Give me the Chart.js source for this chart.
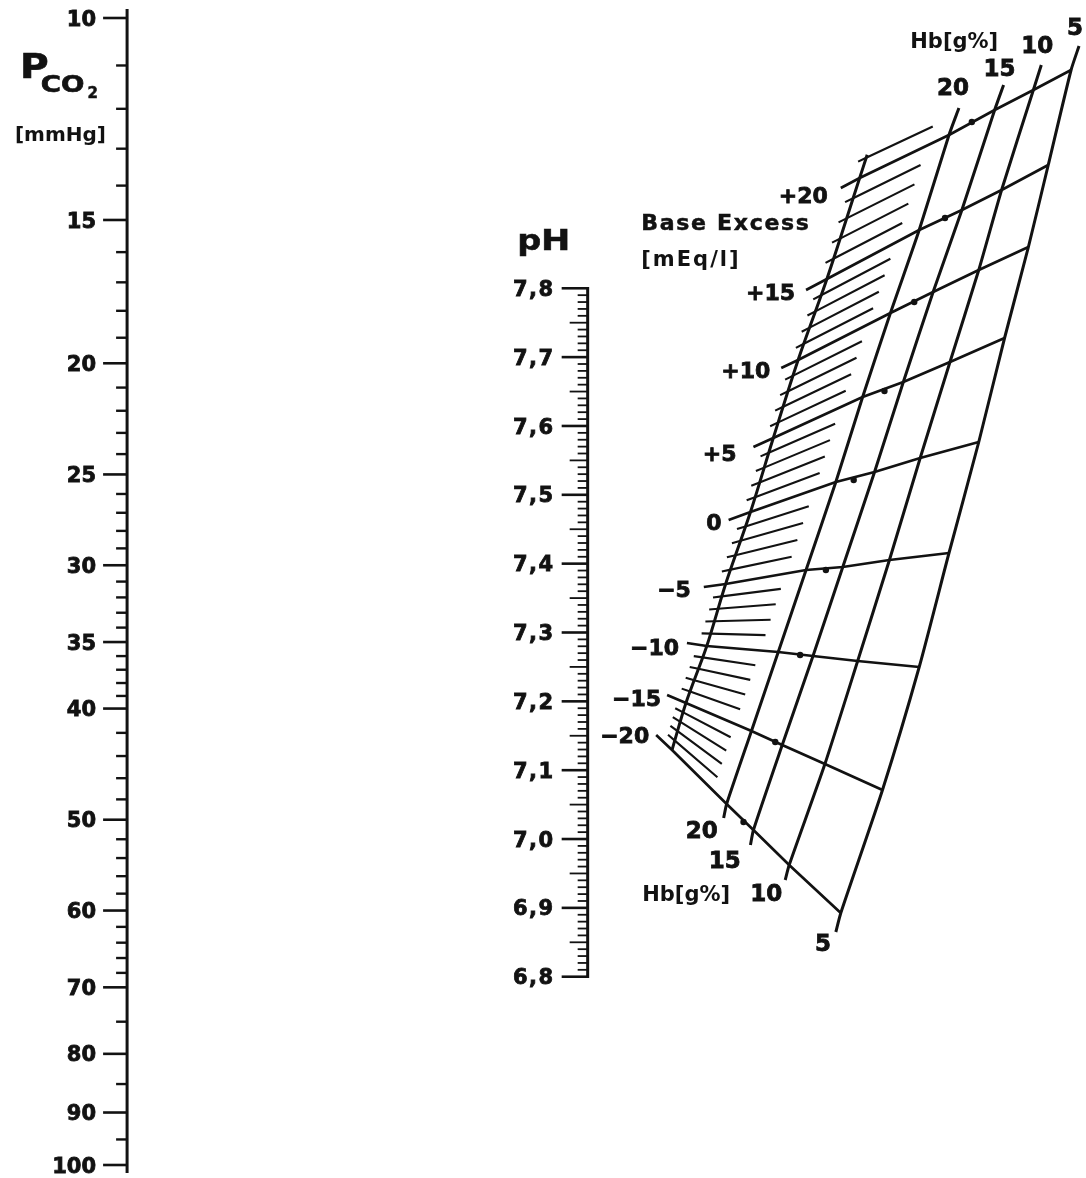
<!DOCTYPE html>
<html lang="de">
<head>
<meta charset="utf-8">
<title>Nomogramm PCO2 / pH / Base Excess</title>
<script src="https://cdn.jsdelivr.net/npm/chart.js@4.4.1/dist/chart.umd.min.js"></script>
<style>
  html, body { margin: 0; padding: 0; background: #fff; }
  canvas { display: block; }
</style>
</head>
<body>
<canvas id="nomogram" width="1086" height="1178"></canvas>
<script>
// ===================================
// Scale values
// ===================================
const PCO2_LABELS = [10, 15, 20, 25, 30, 35, 40, 50, 60, 70, 80, 90, 100];
const PCO2_MINOR = [11, 12, 13, 14, 16, 17, 18, 19, 21, 22, 23, 24, 26, 27, 28, 29,
    31, 32, 33, 34, 36, 37, 38, 39, 42, 44, 46, 48, 52, 54, 56, 58, 62, 64, 66, 68, 75, 85, 95];
const PH_LABELS = [7.8, 7.7, 7.6, 7.5, 7.4, 7.3, 7.2, 7.1, 7.0, 6.9, 6.8];
const BE_VALUES = [20, 15, 10, 5, 0, -5, -10, -15, -20];
const HB_VALUES = [20, 15, 10, 5];

// BE / Hb grid nodes (units of the hidden x / ny plane scales),
// one entry per BE value, in BE_VALUES order
const BE_LABEL_END = [[843, 188], [808, 290], [783, 368], [755, 447], [730, 520], [705, 587], [688, 643], [668, 695], [657, 735]];
const BE_SCALE_PT = [[862, 178], [829, 279], [800, 360], [775, 438], [752, 512], [727, 584], [708, 646], [687, 703], [673, 750]];
const HB20_NODES = [[952, 135], [922, 230], [893, 313], [865, 397], [838, 482], [808, 570], [780, 652], [753, 731], [728, 804]];
const HB15_NODES = [[998, 110], [965, 210], [936, 292], [906, 382], [877, 472], [845, 567], [815, 656], [784, 745], [755, 830]];
const HB10_NODES = [[1037, 90], [1005, 190], [982, 270], [953, 362], [923, 458], [892, 560], [860, 661], [827, 764], [791, 865]];
const HB5_NODES = [[1075, 70], [1052, 165], [1032, 247], [1008, 338], [982, 442], [952, 553], [922, 667], [885, 790], [843, 913]];
// free ends of the Hb lines, in HB_VALUES order
const HB_TOP = [[962, 108], [1007, 85], [1045, 65], [1083, 46]];
const HB_BOTTOM = [[725, 818], [752, 845], [787, 880], [838, 932]];
// small marks on the BE lines between Hb 20 and Hb 15
const BE_MARKS = [[975, 122], [948, 218], [917, 302], [887, 391], [856, 480], [828, 570], [802, 655], [777, 742], [745, 822]];
const BE_SCALE_TOP = 21;

// ===================================
// Layout / style
// ===================================
const INK = '#121212';
const FONT = '"DejaVu Sans", "Liberation Sans", sans-serif';
const PCO2_AXIS_X = 124;
const PH_AXIS_X = 588;
// pH axis range so that 7,8 and 6,8 sit where the picture has them
const PH_AXIS_MIN = 6.5265;
const PH_AXIS_MAX = 8.1926;
const HATCH_FRAC = 0.75;
const BE_LABEL_POS = [[830, 195], [797, 292], [772, 370], [738, 453], [723, 522], [692, 589], [680, 647], [662, 698], [650, 735]];
const HB_TOP_LABEL_POS = [[956, 87], [1003, 68], [1041, 45], [1079, 27]];
const HB_BOTTOM_LABEL_POS = [[703, 830], [726, 860], [768, 893], [825, 943]];

const hbNodes = [HB20_NODES, HB15_NODES, HB10_NODES, HB5_NODES];
const xy = p => ({ x: p[0], y: p[1] });
const GAP = { x: null, y: null };

// position on the BE scale (piecewise between the 5 mEq/l nodes)
function bePoint(list, b) {
    let i = Math.floor((20 - b) / 5);
    i = Math.max(0, Math.min(BE_VALUES.length - 2, i));
    const t = (BE_VALUES[i] - b) / 5;
    const a = list[i], c = list[i + 1];
    return [a[0] + (c[0] - a[0]) * t, a[1] + (c[1] - a[1]) * t];
}

const lineStyle = {
    showLine: true, pointRadius: 0, borderColor: INK, borderWidth: 2.7,
    fill: false, xAxisID: 'x', yAxisID: 'ny'
};

const datasets = [];

// BE lines
BE_VALUES.forEach((be, i) => {
    datasets.push({
        ...lineStyle, label: 'BE ' + be,
        data: [BE_LABEL_END[i], BE_SCALE_PT[i]].concat(hbNodes.map(n => n[i])).map(xy)
    });
});

// Hb lines
HB_VALUES.forEach((hb, j) => {
    datasets.push({
        ...lineStyle, label: 'Hb ' + hb, tension: 0.2, borderWidth: 3,
        data: [HB_TOP[j]].concat(hbNodes[j], [HB_BOTTOM[j]]).map(xy)
    });
});

// BE scale curve
datasets.push({
    ...lineStyle, label: 'BE scale', borderWidth: 3, tension: 0.3,
    data: [bePoint(BE_SCALE_PT, BE_SCALE_TOP + 0.15)].concat(BE_SCALE_PT).map(xy)
});

// hatches and ticks of the BE scale, every 1 mEq/l
const hatch = [], ticks = [];
for (let b = BE_SCALE_TOP; b > -20; b--) {
    if (b % 5 === 0) continue;
    const p = bePoint(BE_SCALE_PT, b);
    const h = bePoint(HB20_NODES, b);
    const dx = h[0] - p[0], dy = h[1] - p[1];
    const len = Math.hypot(dx, dy);
    hatch.push(xy(p), xy([p[0] + dx * HATCH_FRAC, p[1] + dy * HATCH_FRAC]), GAP);
    ticks.push(xy([p[0] - dx / len * 9, p[1] - dy / len * 9]), xy(p), GAP);
}
datasets.push({ ...lineStyle, label: 'hatch', borderWidth: 2.1, spanGaps: false, data: hatch });
datasets.push({ ...lineStyle, label: 'BE ticks', borderWidth: 2.1, spanGaps: false, data: ticks });

datasets.push({
    label: 'marks', xAxisID: 'x', yAxisID: 'ny', showLine: false,
    pointRadius: 3.2, pointBackgroundColor: INK, pointBorderWidth: 0,
    data: BE_MARKS.map(xy)
});

// ===================================
// Text + printed scales
// ===================================
function seg(ctx, x1, y1, x2, y2, w) {
    ctx.beginPath();
    ctx.lineWidth = w;
    ctx.moveTo(x1, y1);
    ctx.lineTo(x2, y2);
    ctx.stroke();
}

function write(ctx, str, x, y, size, opts = {}) {
    ctx.save();
    ctx.font = `bold ${size}px ${FONT}`;
    ctx.textAlign = opts.align || 'left';
    ctx.textBaseline = 'alphabetic';
    ctx.letterSpacing = (opts.spacing || 0) + 'px';
    ctx.translate(x, y);
    ctx.scale(opts.sx || 1, 1);
    ctx.fillText(str, 0, 0);
    if (opts.stroke) {
        ctx.lineWidth = opts.stroke;
        ctx.strokeText(str, 0, 0);
    }
    ctx.restore();
}

// text vertically centred on y
function writeMid(ctx, str, x, y, size, opts) {
    write(ctx, str, x, y + size * 0.36, size, opts);
}

const beText = b => b > 0 ? '+' + b : b < 0 ? '\u2212' + (-b) : '0';

const nomogramAxes = {
    id: 'nomogramAxes',
    afterDatasetsDraw(chart) {
        const { ctx } = chart;
        const { x, ny, pco2, ph } = chart.scales;
        const px = v => x.getPixelForValue(v);
        const py = v => ny.getPixelForValue(v);
        ctx.save();
        ctx.strokeStyle = INK;
        ctx.fillStyle = INK;

        // PCO2 scale
        const ax = px(PCO2_AXIS_X);
        seg(ctx, ax, pco2.getPixelForValue(10) - 9, ax, pco2.getPixelForValue(100) + 8, 3);
        PCO2_MINOR.forEach(v => {
            const y = pco2.getPixelForValue(v);
            seg(ctx, ax - 11, y, ax, y, 2.4);
        });
        PCO2_LABELS.forEach(v => {
            const y = pco2.getPixelForValue(v);
            seg(ctx, ax - 24, y, ax, y, 2.6);
            writeMid(ctx, String(v), ax - 31, y, 21, { align: 'right', stroke: 0.8 });
        });
        write(ctx, 'P', px(16), py(78), 34, { sx: 1.15, stroke: 0.6 });
        write(ctx, 'CO', px(37), py(92), 23, { sx: 1.2, stroke: 0.6 });
        write(ctx, '2', px(84), py(98), 15, { stroke: 0.5 });
        write(ctx, '[mmHg]', px(11), py(141), 20);

        // pH scale
        const bx = px(PH_AXIS_X);
        seg(ctx, bx, ph.getPixelForValue(7.8) - 1.3, bx, ph.getPixelForValue(6.8) + 1.3, 3);
        for (let k = 680; k <= 780; k++) {
            const y = ph.getPixelForValue(k / 100);
            const len = k % 10 === 0 ? 26 : k % 5 === 0 ? 18 : 10;
            seg(ctx, bx - len, y, bx, y, k % 10 === 0 ? 2.6 : 1.8);
        }
        PH_LABELS.forEach(v => {
            const y = ph.getPixelForValue(v);
            writeMid(ctx, v.toFixed(1).replace('.', ','), bx - 33, y, 21, { align: 'right', spacing: 1.5, stroke: 0.8 });
        });
        write(ctx, 'p', px(517), py(250), 28, { sx: 1.2, stroke: 0.5 });
        write(ctx, 'H', px(541), py(250), 28, { sx: 1.25, stroke: 0.5 });

        // Base Excess labels
        write(ctx, 'Base Excess', px(642), py(230), 22, { spacing: 1.7, stroke: 0.5 });
        write(ctx, '[mEq/l]', px(642), py(266), 21, { spacing: 2 });
        BE_VALUES.forEach((b, i) => {
            const p = BE_LABEL_POS[i];
            writeMid(ctx, beText(b), px(p[0]), py(p[1]), 22, { align: 'right', stroke: 0.8 });
        });

        // Hb labels
        write(ctx, 'Hb[g%]', px(913), py(48), 21);
        write(ctx, 'Hb[g%]', px(643), py(901), 21);
        HB_VALUES.forEach((hb, j) => {
            const t = HB_TOP_LABEL_POS[j], u = HB_BOTTOM_LABEL_POS[j];
            writeMid(ctx, String(hb), px(t[0]), py(t[1]), 23, { align: 'center', stroke: 0.8 });
            writeMid(ctx, String(hb), px(u[0]), py(u[1]), 23, { align: 'center', stroke: 0.8 });
        });
        ctx.restore();
    }
};

// ===================================
// Chart
// ===================================
new Chart(document.getElementById('nomogram').getContext('2d'), {
    type: 'scatter',
    data: { datasets },
    options: {
        responsive: false,
        animation: false,
        devicePixelRatio: 1,
        events: [],
        layout: { padding: { top: 18, bottom: 13, left: 0, right: 0 } },
        plugins: {
            legend: { display: false },
            tooltip: { enabled: false },
            title: { display: false }
        },
        scales: {
            x: { type: 'linear', min: 0, max: 1086, display: false },
            ny: { type: 'linear', axis: 'y', min: 18, max: 1165, reverse: true, display: false },
            pco2: { type: 'logarithmic', axis: 'y', position: 'left', min: 10, max: 100, reverse: true, display: false },
            ph: { type: 'linear', axis: 'y', position: 'left', min: PH_AXIS_MIN, max: PH_AXIS_MAX, display: false }
        }
    },
    plugins: [nomogramAxes]
});
</script>
</body>
</html>
